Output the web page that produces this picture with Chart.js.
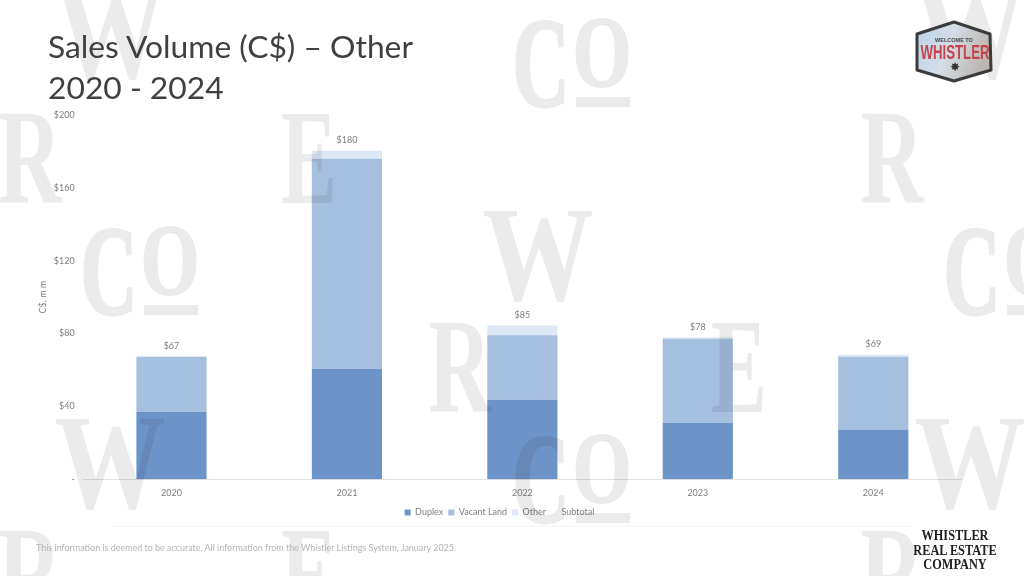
<!DOCTYPE html>
<html>
<head>
<meta charset="utf-8">
<title>Sales Volume (C$) - Other</title>
<script src="https://cdn.jsdelivr.net/npm/chart.js@4/dist/chart.umd.min.js"></script>
<style>
  html, body { margin: 0; padding: 0; background: #fff; width: 1024px; height: 576px; overflow: hidden; }
  body { position: relative; font-family: Lato, sans-serif; }
  #myChart { position: absolute; left: 0; top: 0; }
  .title { position: absolute; left: 48px; top: 26px; font-size: 31.8px; line-height: 41px; color: #404040; white-space: nowrap; }
  .note { position: absolute; left: 36px; top: 542px; font-size: 8.95px; color: #b4b4b4; white-space: nowrap; }
  .rule { position: absolute; left: 112px; top: 526px; width: 800px; height: 1px; background: #f4f4f4; }
  .company { position: absolute; left: 895px; top: 528px; width: 120px; text-align: center; font: bold 15px/14.5px "Liberation Serif", serif; color: #222; transform: scaleX(0.82); }
  #marks { position: absolute; left: 0; top: 0; mix-blend-mode: multiply; pointer-events: none; }
  #logo { position: absolute; left: 0; top: 0; }
</style>
</head>
<body>
<canvas id="myChart" width="1024" height="576"></canvas>
<svg id="marks" width="1024" height="576"></svg>
<div class="title">Sales Volume (C$) – Other<br>2020 - 2024</div>
<div class="rule"></div>
<div class="note">This information is deemed to be accurate. All information from the Whistler Listings System, January 2025.</div>
<div class="company">WHISTLER<br>REAL ESTATE<br>COMPANY</div>
<svg id="logo" width="1024" height="576">
  <defs>
    <linearGradient id="badge" x1="0" y1="0" x2="1" y2="0.3">
      <stop offset="0" stop-color="#b9d3ea"/>
      <stop offset="0.5" stop-color="#d5dde6"/>
      <stop offset="1" stop-color="#bdb7b2"/>
    </linearGradient>
  </defs>
  <polygon points="954,22 990,34 991,70 954,81 917,70 917,34" fill="url(#badge)" stroke="#3b3b3b" stroke-width="3" stroke-linejoin="round"/>
  <text x="954" y="42" text-anchor="middle" font-family="Liberation Sans" font-weight="bold" font-size="5.5" fill="#444">WELCOME TO</text>
  <text x="0" y="0" transform="translate(955,59) scale(0.63,1)" text-anchor="middle" font-family="Liberation Sans" font-weight="bold" font-size="21" fill="#c5454d">WHISTLER</text>
  <text x="955" y="71" text-anchor="middle" font-family="DejaVu Sans" font-size="12" fill="#333">✸</text>
</svg>
<script>
const categories = ["2020", "2021", "2022", "2023", "2024"];
const duplex = [37, 60.6, 43.6, 30.9, 27.3];
const vacantLand = [30.2, 115.4, 35.4, 46.2, 40];
const other = [0.3, 4.4, 5.4, 0.9, 1];
const subtotal = [67, 180, 85, 78, 69];
const yTicks = [0, 40, 80, 120, 160, 200];

const labelFont = { family: "Lato", size: 9 };
const labelColor = "#7f7f7f";

// faint company letters behind the slide, they also tint the bars
const letters = [
  ["W", 110, 78, 0.82], ["W", 538, 300, 0.82], ["W", 970, 78, 0.82], ["W", 110, 508, 0.82], ["W", 970, 508, 0.82],
  ["R", 30, 203, 0.65], ["R", 892, 203, 0.65], ["R", 460, 412, 0.65], ["R", 30, 620, 0.65], ["R", 892, 620, 0.65],
  ["E", 309, 203, 0.62], ["E", 739, 412, 0.62], ["E", 309, 620, 0.62]
];
const coMarks = [[512, 18], [80, 226], [943, 226], [512, 434]];

function addSvg(name, attrs, text) {
  const el = document.createElementNS("http://www.w3.org/2000/svg", name);
  Object.keys(attrs).forEach(k => el.setAttribute(k, attrs[k]));
  if (text) el.textContent = text;
  document.getElementById("marks").appendChild(el);
}

function addLetter(ch, x, y, sx, size, heavy) {
  addSvg("text", {
    transform: "translate(" + x + "," + y + ") scale(" + sx + ",1)",
    "text-anchor": "middle",
    "font-family": "Liberation Serif",
    "font-weight": "bold",
    "font-size": size,
    fill: "#ebebeb",
    stroke: "#ebebeb",
    "stroke-width": heavy || 0
  }, ch);
}

letters.forEach(l => addLetter(l[0], l[1], l[2], l[3], 135));
coMarks.forEach(c => {
  addLetter("C", c[0] + 29, c[1] + 88, 0.62, 127, 3);
  addLetter("O", c[0] + 90, c[1] + 69, 0.74, 102, 2);
  addSvg("rect", { x: c[0] + 64, y: c[1] + 79, width: 54, height: 10, fill: "#ebebeb" });
});

// writes the subtotal above each stack
const subtotalLabels = {
  id: "subtotalLabels",
  afterDatasetsDraw(chart) {
    const ctx = chart.ctx;
    const tops = chart.getDatasetMeta(2).data;
    ctx.save();
    ctx.font = labelFont.size + "px " + labelFont.family;
    ctx.fillStyle = labelColor;
    ctx.textAlign = "center";
    ctx.textBaseline = "middle";
    tops.forEach((bar, i) => {
      ctx.fillText("$" + subtotal[i], bar.x, bar.y - 10.5);
    });
    ctx.restore();
  }
};

new Chart(document.getElementById("myChart"), {
  type: "bar",
  data: {
    labels: categories,
    datasets: [
      { label: "Duplex", data: duplex, backgroundColor: "#6d94c9", stack: "a" },
      { label: "Vacant Land", data: vacantLand, backgroundColor: "#a5bfdf", stack: "a" },
      { label: "Other", data: other, backgroundColor: "#dee8f5", stack: "a" },
      { label: "Subtotal", type: "line", data: subtotal, stack: "b", showLine: false, pointRadius: 0,
        borderColor: "rgba(0,0,0,0)", backgroundColor: "rgba(0,0,0,0)" }
    ]
  },
  options: {
    responsive: false,
    animation: false,
    devicePixelRatio: 1,
    layout: { padding: { left: 38, right: 63, top: 115, bottom: 49 } },
    datasets: { bar: { categoryPercentage: 1, barPercentage: 0.4 } },
    plugins: {
      tooltip: { enabled: false },
      legend: {
        position: "bottom",
        labels: { boxWidth: 6, boxHeight: 6, padding: 5, color: labelColor, font: labelFont }
      }
    },
    scales: {
      x: {
        stacked: true,
        grid: { display: false },
        border: { color: "#e2e2e2" },
        afterFit(axis) { axis.height += 5; },
        ticks: { color: labelColor, font: labelFont, padding: 0, maxRotation: 0 }
      },
      y: {
        stacked: true,
        min: 0,
        max: 200,
        afterBuildTicks(axis) { axis.ticks = yTicks.map(v => ({ value: v })); },
        afterFit(axis) { axis.width = 45.75; },
        grid: { display: false },
        border: { display: false },
        title: { display: true, text: "C$, m m", color: labelColor, font: labelFont, padding: 0 },
        ticks: {
          color: labelColor,
          font: labelFont,
          padding: 1,
          callback: v => (v === 0 ? "-" : "$" + v)
        }
      }
    }
  },
  plugins: [subtotalLabels]
});
</script>
</body>
</html>
